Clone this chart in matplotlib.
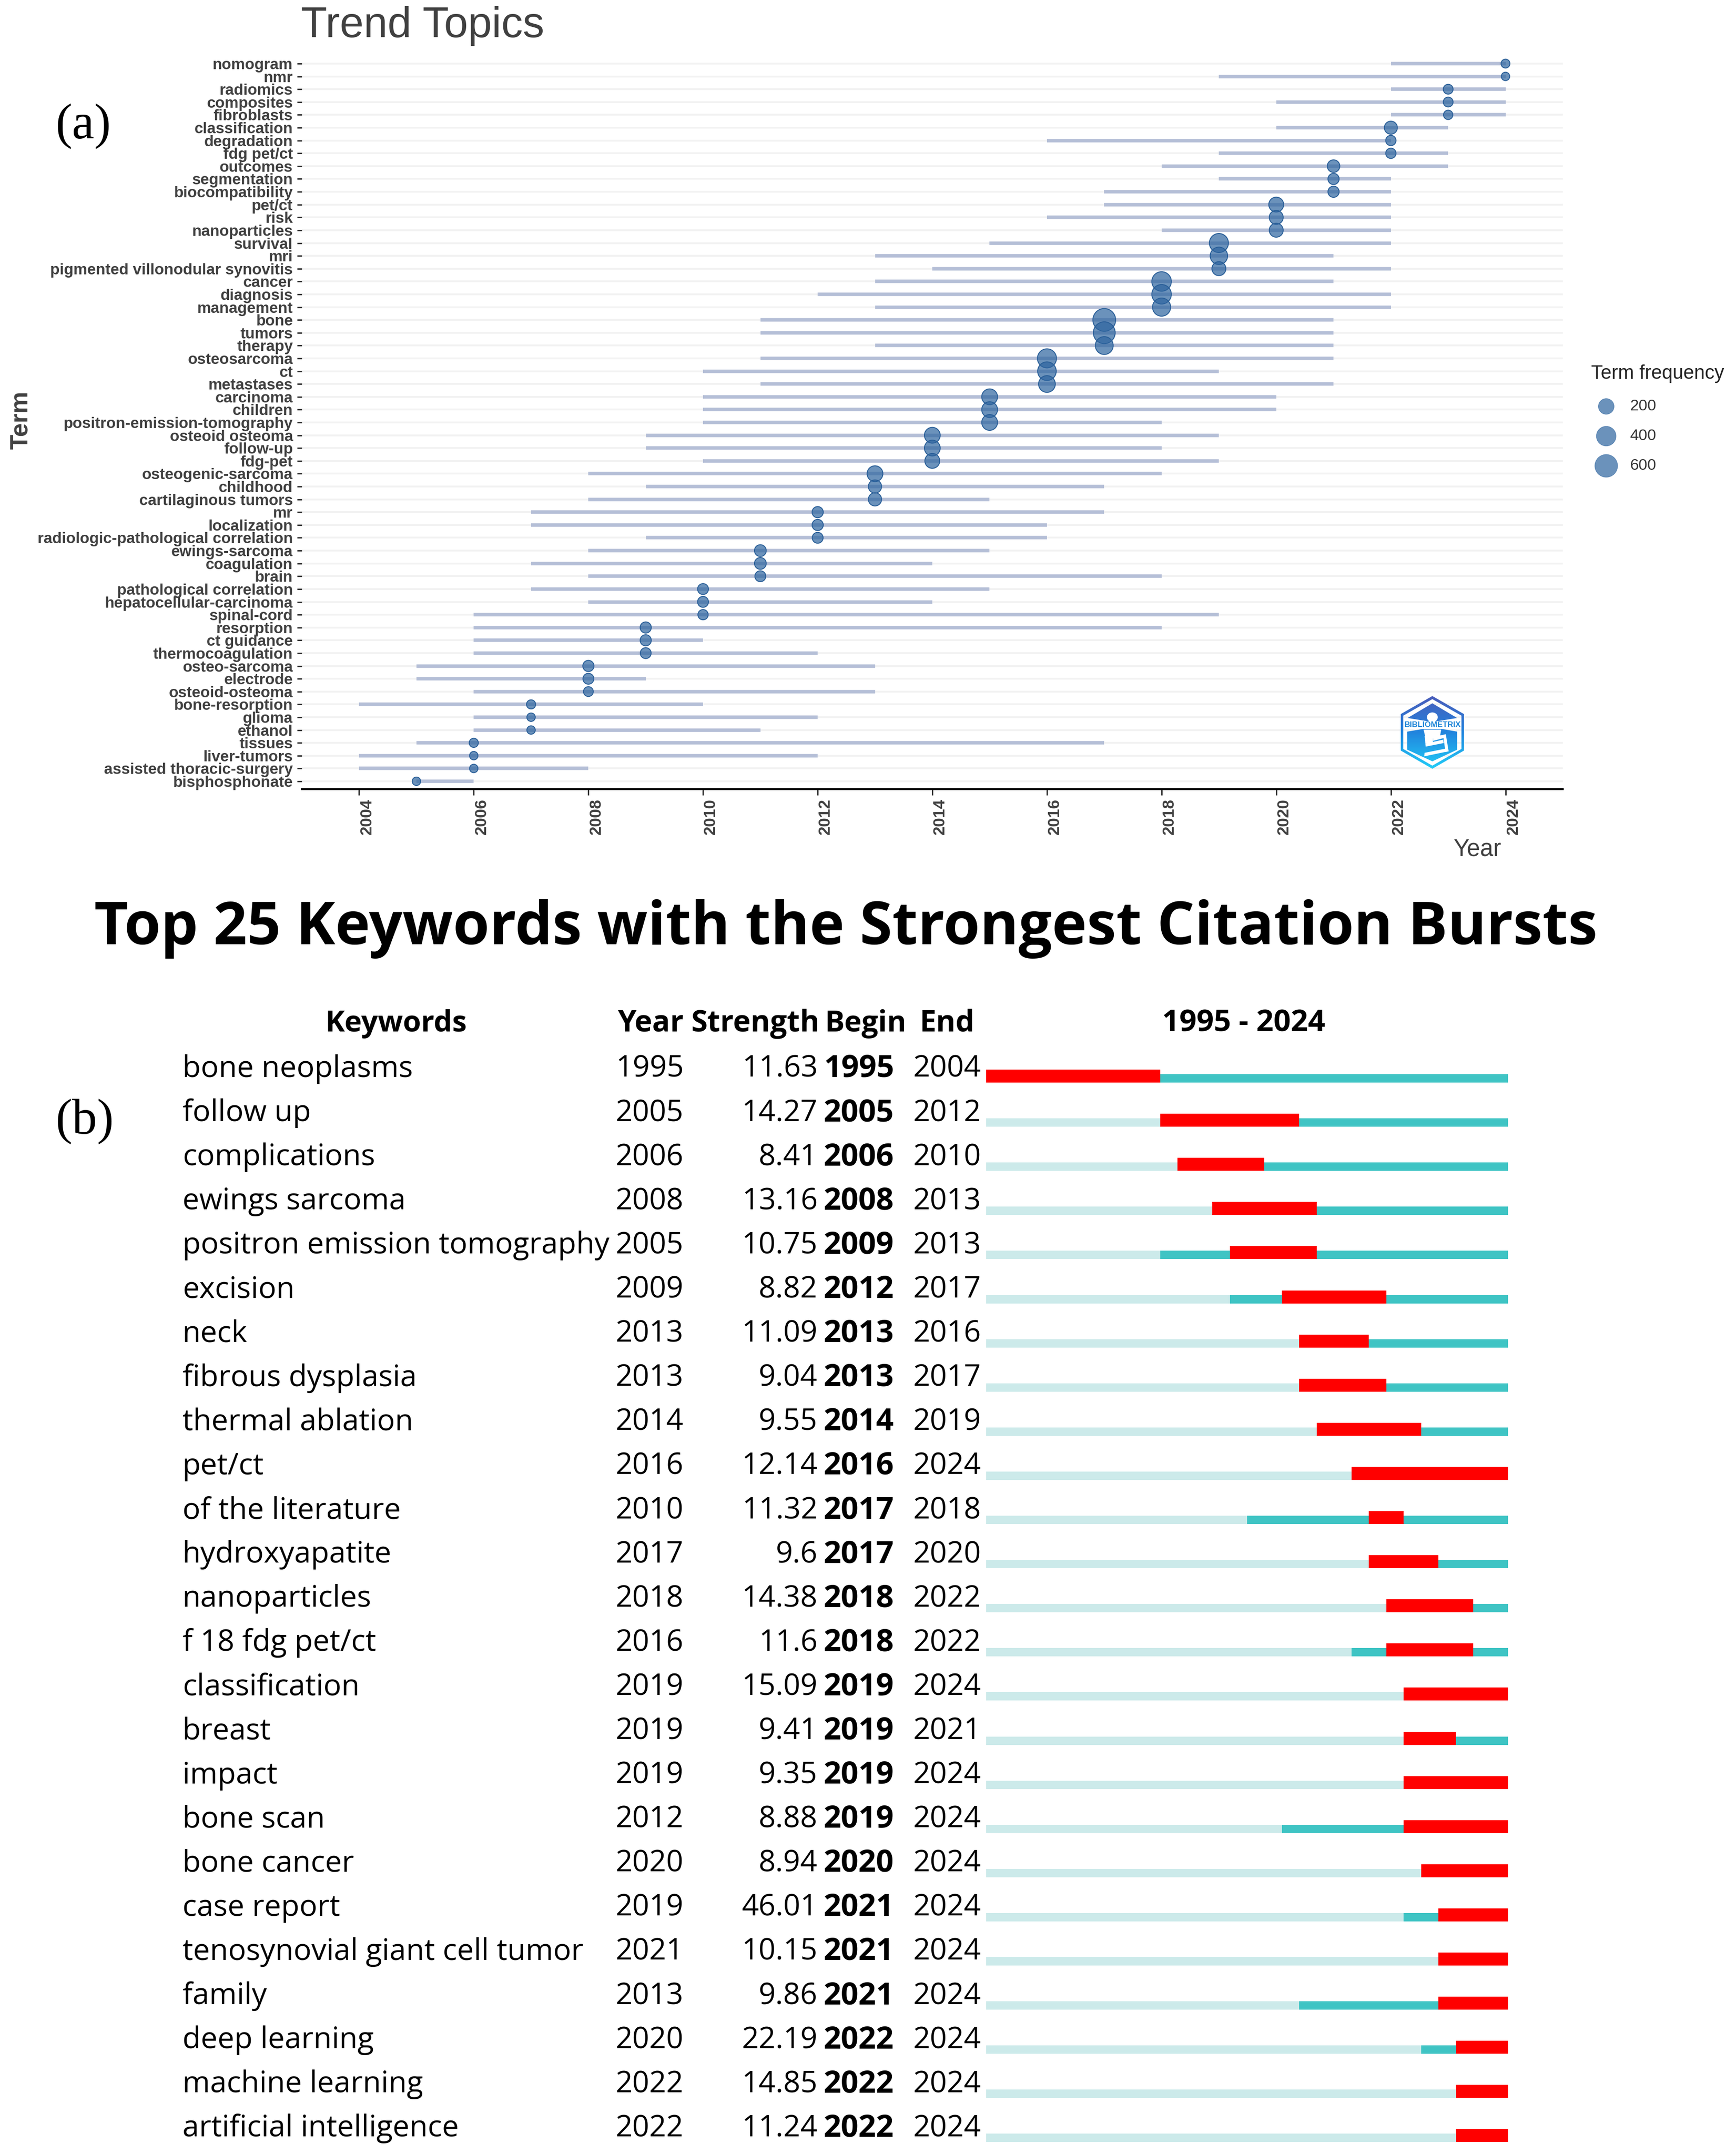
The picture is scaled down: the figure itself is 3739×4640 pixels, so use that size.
import numpy as np
import matplotlib
matplotlib.use('Agg')
import matplotlib.pyplot as plt
from matplotlib.path import Path
from matplotlib.patches import PathPatch, Polygon, Ellipse

W, H = 3739, 4640
DPI = 100
def pt(px):
    return px * 72 / DPI

# ---------- panel (a) data ----------
terms = ['nomogram','nmr','radiomics','composites','fibroblasts','classification','degradation','fdg pet/ct',
         'outcomes','segmentation','biocompatibility','pet/ct','risk','nanoparticles','survival','mri',
         'pigmented villonodular synovitis','cancer','diagnosis','management','bone','tumors','therapy',
         'osteosarcoma','ct','metastases','carcinoma','children','positron-emission-tomography','osteoid osteoma',
         'follow-up','fdg-pet','osteogenic-sarcoma','childhood','cartilaginous tumors','mr','localization',
         'radiologic-pathological correlation','ewings-sarcoma','coagulation','brain','pathological correlation',
         'hepatocellular-carcinoma','spinal-cord','resorption','ct guidance','thermocoagulation','osteo-sarcoma',
         'electrode','osteoid-osteoma','bone-resorption','glioma','ethanol','tissues','liver-tumors',
         'assisted thoracic-surgery','bisphosphonate']
q1 = [2022,2019,2022,2020,2022,2020,2016,2019,2018,2019,2017,2017,2016,2018,2015,2013,2014,2013,2012,2013,2011,2011,
      2013,2011,2010,2011,2010,2010,2010,2009,2009,2010,2008,2009,2008,2007,2007,2009,2008,2007,2008,2007,2008,2006,
      2006,2006,2006,2005,2005,2006,2004,2006,2006,2005,2004,2004,2005]
median = [2024,2024,2023,2023,2023,2022,2022,2022,2021,2021,2021,2020,2020,2020,2019,2019,2019,2018,2018,2018,2017,2017,
          2017,2016,2016,2016,2015,2015,2015,2014,2014,2014,2013,2013,2013,2012,2012,2012,2011,2011,2011,2010,2010,2010,
          2009,2009,2009,2008,2008,2008,2007,2007,2007,2006,2006,2006,2005]
q3 = [2024,2024,2024,2024,2024,2023,2022,2023,2023,2022,2022,2022,2022,2022,2022,2021,2022,2021,2022,2022,2021,2021,
      2021,2021,2019,2021,2020,2020,2018,2019,2018,2019,2018,2017,2015,2017,2016,2016,2015,2014,2018,2015,2014,2019,
      2018,2010,2012,2013,2009,2013,2010,2012,2011,2017,2012,2008,2006]
freq = [17,12,30,30,23,104,38,38,90,56,56,167,134,134,363,278,134,389,389,313,600,535,
        300,363,337,245,204,204,204,204,204,167,204,110,110,56,56,50,70,70,50,50,50,38,
        56,56,50,56,50,30,20,12,12,20,12,12,12]
xticks_a = [2004,2006,2008,2010,2012,2014,2016,2018,2020,2022,2024]
legend_freq = [200,400,600]

# ---------- panel (b) data ----------
keywords = ['bone neoplasms','follow up','complications','ewings sarcoma','positron emission tomography','excision',
            'neck','fibrous dysplasia','thermal ablation','pet/ct','of the literature','hydroxyapatite','nanoparticles',
            'f 18 fdg pet/ct','classification','breast','impact','bone scan','bone cancer','case report',
            'tenosynovial giant cell tumor','family','deep learning','machine learning','artificial intelligence']
kw_year = [1995,2005,2006,2008,2005,2009,2013,2013,2014,2016,2010,2017,2018,2016,2019,2019,2019,2012,2020,2019,2021,2013,2020,2022,2022]
strength = ['11.63','14.27','8.41','13.16','10.75','8.82','11.09','9.04','9.55','12.14','11.32','9.6','14.38','11.6',
            '15.09','9.41','9.35','8.88','8.94','46.01','10.15','9.86','22.19','14.85','11.24']
begin = [1995,2005,2006,2008,2009,2012,2013,2013,2014,2016,2017,2017,2018,2018,2019,2019,2019,2019,2020,2021,2021,2021,2022,2022,2022]
end = [2004,2012,2010,2013,2013,2017,2016,2017,2019,2024,2018,2020,2022,2022,2024,2021,2024,2024,2024,2024,2024,2024,2024,2024,2024]
span_start, span_end = 1995, 2024

SANS = 'Liberation Sans'
SERIF = 'Liberation Serif'
NOTO = 'Open Sans'

fig = plt.figure(figsize=(W / DPI, H / DPI), dpi=DPI, facecolor='white')

def px_axes(l, t, r, b, **kw):
    return fig.add_axes([l / W, 1 - b / H, (r - l) / W, (b - t) / H], **kw)

# ---------- panel (a) ----------
n = len(terms)
pitch = (1683 - 137) / (n - 1)
ax = px_axes(650, 137 - 0.6 * pitch, 3366, 1683 + 0.6 * pitch)
ax.set_xlim(2003, 2025)
ax.set_ylim(n - 1 + 0.6, -0.6)
ypos = np.arange(n)
ax.hlines(ypos, 2003, 2025, color='#F2F2F2', lw=pt(4), zorder=1)
ax.hlines(ypos, q1, q3, color='#B5BFD7', lw=pt(7.5), zorder=2)
diam = 13 + 1.47 * np.sqrt(np.array(freq, float))
ax.scatter(median, ypos, s=(diam * 72 / DPI) ** 2, facecolor=(0.176, 0.392, 0.624, 0.7),
           edgecolor='#2A5F98', linewidth=pt(2), zorder=3)
for s in ['top', 'right', 'left']:
    ax.spines[s].set_visible(False)
ax.spines['bottom'].set_linewidth(pt(4))
ax.spines['bottom'].set_color('black')
ax.set_yticks(ypos)
ax.set_yticklabels(terms, fontfamily=SANS, fontweight='bold', fontsize=pt(33.4), color='#404040')
ax.set_xticks(xticks_a)
ax.set_xticklabels([str(v) for v in xticks_a], rotation=90, ha='left', va='top', rotation_mode='default',
                   fontfamily=SANS, fontweight='bold', fontsize=pt(35), color='#404040')
ax.tick_params(axis='y', length=pt(10), width=pt(3), color='#333333', pad=pt(9))
ax.tick_params(axis='x', length=pt(13), width=pt(3), color='#333333', pad=pt(8))

# ---------- overlay in picture coordinates ----------
ov = fig.add_axes([0, 0, 1, 1], zorder=10)
ov.set_xlim(0, W)
ov.set_ylim(H, 0)
ov.axis('off')
ov.patch.set_alpha(0)

ov.text(648, 80, 'Trend Topics', fontfamily=SANS, fontsize=pt(92.5), color='#404040', ha='left', va='baseline')
ov.text(45, 905, 'Term', fontfamily=SANS, fontweight='bold', fontsize=pt(53), color='#404040', rotation=90,
        ha='center', va='center')
ov.text(3234, 1843, 'Year', fontfamily=SANS, fontsize=pt(51), color='#404040', ha='right', va='baseline')
ov.text(179, 298, '(a)', fontfamily=SERIF, fontsize=pt(108), color='black', ha='center', va='baseline')
ov.text(182, 2442, '(b)', fontfamily=SERIF, fontsize=pt(108), color='black', ha='center', va='baseline')

# legend
ov.text(3427, 805, 'Term frequency', fontfamily=SANS, fontsize=pt(41.5), color='#222222', ha='left', va='center')
for f, y in zip(legend_freq, [875, 939, 1003]):
    d = 13 + 1.47 * np.sqrt(f)
    ov.scatter([3459], [y], s=(d * 72 / DPI) ** 2, facecolor=(0.176, 0.392, 0.624, 0.7),
               edgecolor=(0.176, 0.392, 0.624, 0.7), linewidth=pt(1))
    ov.text(3510, y, str(f), fontfamily=SANS, fontsize=pt(34), color='#333333', ha='left', va='center')

# logo: hexagon shield with vertical gradient (coordinates from a 3x crop at 2980,1470)
lx0, lx1, ly0, ly1 = 3017, 3153, 1499, 1656
def L(pts):
    return [(2980 + x / 3, 1470 + y / 3) for x, y in pts]
grad = np.linspace(0, 1, 256)[:, None, None]
top = np.array([0.29, 0.36, 0.73])
mid = np.array([0.13, 0.52, 0.87])
bot = np.array([0.13, 0.80, 0.97])
rgb = np.where(grad < 0.5, top + (mid - top) * grad * 2, mid + (bot - mid) * (grad - 0.5) * 2)
def closed(pts):
    return list(pts) + [pts[0]], [Path.MOVETO] + [Path.LINETO] * (len(pts) - 1) + [Path.CLOSEPOLY]
def gradient_fill(path):
    im = ov.imshow(rgb, extent=(lx0, lx1, ly1, ly0), aspect='auto', zorder=5, interpolation='bilinear')
    p = PathPatch(path, transform=ov.transData, fc='none', ec='none')
    ov.add_patch(p)
    im.set_clip_path(p)
outer = L([(315, 88), (520, 205), (520, 440), (315, 558), (110, 440), (110, 205)])
innr = L([(315, 108), (503, 215), (503, 430), (315, 538), (127, 430), (127, 215)])[::-1]
v1, c1 = closed(outer)
v2, c2 = closed(innr)
gradient_fill(Path(v1 + v2, c1 + c2))
v, c = closed(L([(315, 135), (475, 230), (350, 250), (280, 250), (155, 230)]))
gradient_fill(Path(v, c))
v, c = closed(L([(153, 318), (260, 300), (372, 300), (475, 318), (475, 435), (315, 510), (153, 435)]))
gradient_fill(Path(v, c))
ov.set_xlim(0, W)
ov.set_ylim(H, 0)
ov.add_patch(Ellipse((2980 + 315 / 3, 1470 + 225 / 3), 70 / 3, 62 / 3, fc='white', ec='none', zorder=6))
white_parts = [[(258, 305), (372, 305), (365, 345), (275, 375)],
               [(265, 345), (320, 345), (318, 395), (270, 395)],
               [(318, 352), (402, 335), (405, 355), (320, 378)],
               [(385, 345), (402, 335), (420, 445), (400, 450)],
               [(270, 395), (385, 370), (388, 392), (272, 415)],
               [(265, 455), (415, 425), (420, 445), (262, 478)]]
for part in white_parts:
    ov.add_patch(Polygon(L(part), closed=True, fc='white', ec='none', zorder=6))
ov.text(3085.5, 1561, 'BIBLIOMETRIX', fontfamily=SANS, fontweight='bold', fontsize=pt(17), color='#1F86D8',
        ha='center', va='center', zorder=7)

# ---------- panel (b) ----------
ov.text(203, 2034, 'Top 25 Keywords with the Strongest Citation Bursts', fontfamily=NOTO, fontweight='bold',
        fontsize=pt(127), color='black', ha='left', va='baseline')
HEAD_Y = 2222
for txt, x, size in [('Keywords', 700, 63), ('Year', 1330, 64), ('Strength', 1488, 64), ('Begin', 1776, 63),
                     ('End', 1980, 64), ('1995 - 2024', 2503, 65)]:
    ov.text(x, HEAD_Y, txt, fontfamily=NOTO, fontweight='bold', fontsize=pt(size), color='black', ha='left', va='baseline')

row_h = 95.1
base0 = 2320
for i in range(len(keywords)):
    y = base0 + i * row_h
    ov.text(393, y, keywords[i], fontfamily=NOTO, fontsize=pt(64.2), color='black', ha='left', va='baseline')
    ov.text(1326, y, str(kw_year[i]), fontfamily=NOTO, fontsize=pt(64), color='black', ha='left', va='baseline')
    ov.text(1761, y, strength[i], fontfamily=NOTO, fontsize=pt(64), color='black', ha='right', va='baseline')
    ov.text(1774, y, str(begin[i]), fontfamily=NOTO, fontweight='bold', fontsize=pt(66.5), color='black', ha='left', va='baseline')
    ov.text(1967, y, str(end[i]), fontfamily=NOTO, fontsize=pt(64), color='black', ha='left', va='baseline')

bar0 = 2332
top_px = bar0 - 0.5 * row_h
axb = px_axes(2124, top_px, 3248, H)
axb.set_xlim(span_start, span_end + 1)
axb.set_ylim((H - bar0) / row_h, -0.5)
axb.axis('off')
thin = 18 / row_h
thick = 28 / row_h
for i in range(len(keywords)):
    axb.barh(i - thin / 2, kw_year[i] - span_start, left=span_start, height=thin, color='#CCEAEA', linewidth=0)
    axb.barh(i - thin / 2, span_end + 1 - kw_year[i], left=kw_year[i], height=thin, color='#3FC4C4', linewidth=0)
    axb.barh(i - thick / 2, end[i] + 1 - begin[i], left=begin[i], height=thick, color='#FF0000', linewidth=0)

fig.savefig('out.png', dpi=DPI, facecolor='white')
